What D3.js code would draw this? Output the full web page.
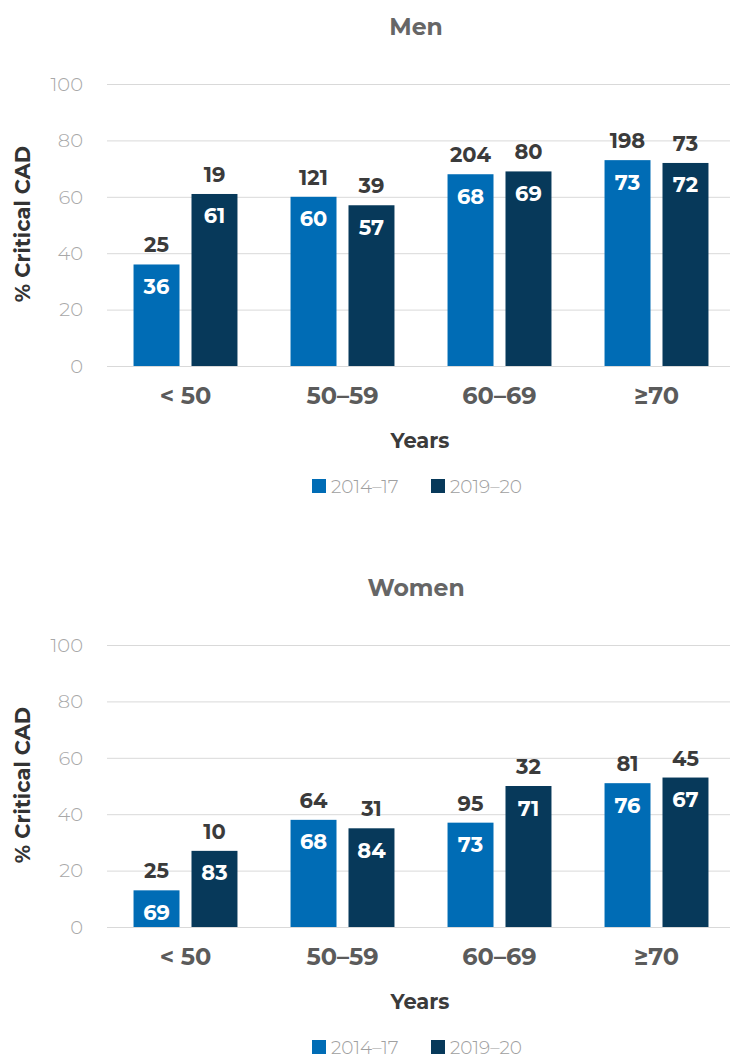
<!DOCTYPE html>
<html>
<head>
<meta charset="utf-8">
<script src="https://cdn.jsdelivr.net/npm/d3@7"></script>
<style>
  body { margin: 0; background: #fff; }
  svg { display: block; }
  text { font-family: "Montserrat", "DejaVu Sans", sans-serif; }
</style>
</head>
<body>
<svg id="chart" width="730" height="1055"></svg>
<script>
// Age groups and survey periods
const categories = ["< 50", "50–59", "60–69", "≥70"];
const series = ["2014–17", "2019–20"];
const yTicks = [0, 20, 40, 60, 80, 100];

// Men: % critical CAD (bar height and label) and patient counts (above bars)
const menPct2014 = [36, 60, 68, 73];
const menPct2019 = [61, 57, 69, 72];
const menN2014 = [25, 121, 204, 198];
const menN2019 = [19, 39, 80, 73];

// Women: % critical CAD (bar height), value shown inside bar, and counts
const womenPct2014 = [13, 38, 37, 51];
const womenPct2019 = [27, 35, 50, 53];
const womenInner2014 = [69, 68, 73, 76];
const womenInner2019 = [83, 84, 71, 67];
const womenN2014 = [25, 64, 95, 81];
const womenN2019 = [10, 31, 32, 45];

const colors = ["#006cb5", "#07395a"];
const fontStack = "'Montserrat', 'DejaVu Sans', sans-serif";

const svg = d3.select("#chart");

function drawPanel(title, top, pct, inner, counts) {
  const g = svg.append("g").attr("transform", `translate(0,${top})`);
  const y = d3.scaleLinear().domain([0, 100]).range([366, 84]);
  const x0 = d3.scaleBand().domain(categories).range([107, 735])
    .paddingInner(0.338).paddingOuter(0.169);
  const x1 = d3.scaleBand().domain(series).range([0, x0.bandwidth()])
    .paddingInner(0.207).paddingOuter(0);

  // Title
  g.append("text").attr("x", 416).attr("y", 35).attr("text-anchor", "middle")
    .attr("font-size", 23.5).attr("font-weight", 700).attr("fill", "#666")
    .text(title);

  // Gridlines
  g.append("g").selectAll("line").data(yTicks).join("line")
    .attr("x1", 107).attr("x2", 730)
    .attr("y1", d => y(d) + 0.5).attr("y2", d => y(d) + 0.5)
    .attr("stroke", "#d9d9d9").attr("stroke-width", 1);

  // Y axis tick labels
  const yAxis = d3.axisLeft(y).tickValues(yTicks).tickSize(0).tickPadding(0);
  const ya = g.append("g").attr("transform", "translate(83,0)").call(yAxis);
  ya.select(".domain").remove();
  ya.selectAll("text").attr("font-size", 19.5).attr("fill", "#a8a8a8")
    .attr("font-weight", 300).style("font-family", fontStack);

  // Y axis title
  g.append("text").attr("transform", "translate(30,224) rotate(-90)")
    .attr("text-anchor", "middle").attr("font-size", 21).attr("font-weight", 700)
    .attr("fill", "#333").text("% Critical CAD");

  // Bars
  const rows = categories.map((c, i) => series.map((s, j) => ({
    cat: c, ser: s, j, v: pct[j][i], inner: inner[j][i], n: counts[j][i]
  }))).flat();

  const bars = g.append("g");
  bars.selectAll("rect").data(rows).join("rect")
    .attr("x", d => x0(d.cat) + x1(d.ser))
    .attr("y", d => y(d.v))
    .attr("width", x1.bandwidth())
    .attr("height", d => y(0) - y(d.v))
    .attr("fill", d => colors[d.j]);

  bars.selectAll("text.inner").data(rows).join("text").attr("class", "inner")
    .attr("x", d => x0(d.cat) + x1(d.ser) + x1.bandwidth() / 2)
    .attr("y", d => y(d.v) + 29.5)
    .attr("text-anchor", "middle").attr("font-size", 21).attr("font-weight", 700)
    .attr("fill", "#fff").text(d => d.inner);

  bars.selectAll("text.count").data(rows).join("text").attr("class", "count")
    .attr("x", d => x0(d.cat) + x1(d.ser) + x1.bandwidth() / 2)
    .attr("y", d => y(d.v) - 12)
    .attr("text-anchor", "middle").attr("font-size", 21).attr("font-weight", 700)
    .attr("fill", "#3b3b3b").text(d => d.n);

  // Category axis
  const xAxis = d3.axisBottom(x0).tickSize(0).tickPadding(0);
  const xa = g.append("g").attr("transform", "translate(0,404)").call(xAxis);
  xa.select(".domain").remove();
  xa.selectAll("text").attr("font-size", 24).attr("font-weight", 700)
    .attr("fill", "#5b5b5b").attr("dy", 0).style("font-family", fontStack);

  // X axis title
  g.append("text").attr("x", 420).attr("y", 447.5).attr("text-anchor", "middle")
    .attr("font-size", 21).attr("font-weight", 700).attr("fill", "#3b3b3b")
    .text("Years");

  // Legend
  const legendX = [312, 431];
  const lg = g.append("g").selectAll("g").data(series).join("g")
    .attr("transform", (d, i) => `translate(${legendX[i]},479)`);
  lg.append("rect").attr("width", 14).attr("height", 14)
    .attr("fill", (d, i) => colors[i]);
  lg.append("text").attr("x", 19).attr("y", 13.5).attr("font-size", 18.5)
    .attr("font-weight", 300).attr("fill", "#a0a0a0").text(d => d);
}

drawPanel("Men", 0, [menPct2014, menPct2019], [menPct2014, menPct2019], [menN2014, menN2019]);
drawPanel("Women", 561, [womenPct2014, womenPct2019], [womenInner2014, womenInner2019], [womenN2014, womenN2019]);
</script>
</body>
</html>
